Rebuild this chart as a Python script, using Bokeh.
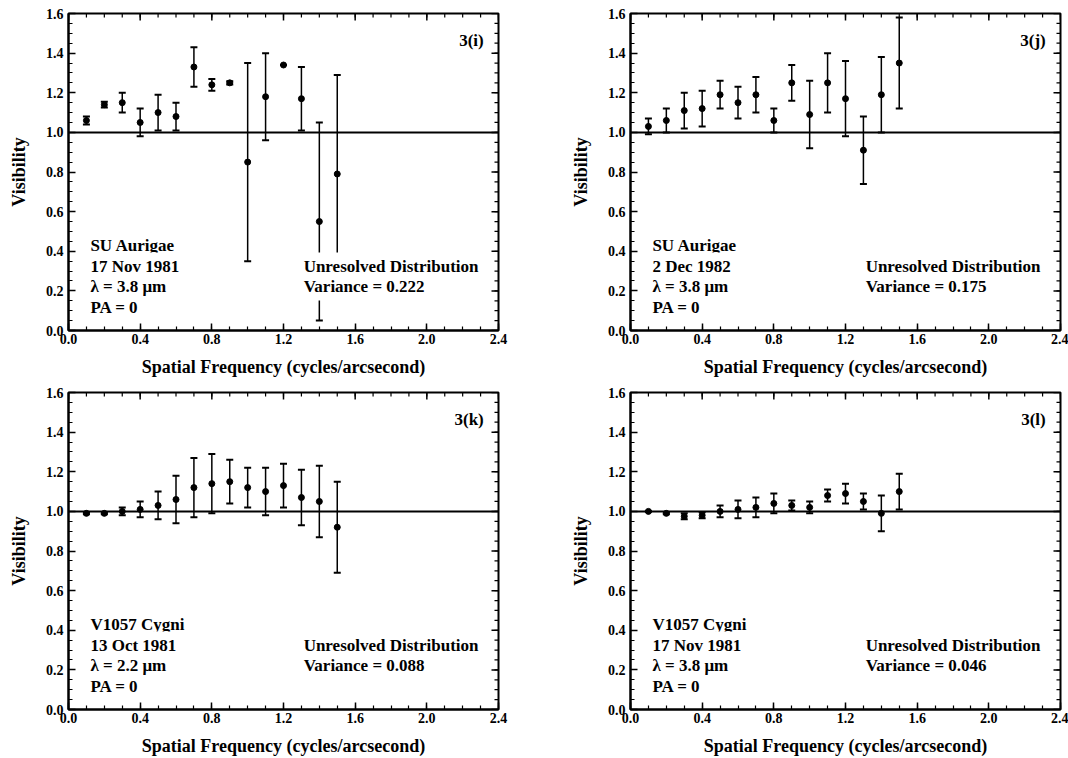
import numpy as np
from bokeh.plotting import figure
from bokeh.models import (ColumnDataSource, Whisker, TeeHead, Span, Label,
                          FixedTicker, PrintfTickFormatter, Range1d)
from bokeh.layouts import column, row
from bokeh.embed import file_html
from bokeh.resources import INLINE

# ---------------- data ----------------
freq = [0.1, 0.2, 0.3, 0.4, 0.5, 0.6, 0.7, 0.8, 0.9, 1.0, 1.1, 1.2, 1.3, 1.4, 1.5]

vis_i = [1.06, 1.14, 1.15, 1.05, 1.10, 1.08, 1.33, 1.24, 1.25, 0.85, 1.18, 1.34, 1.17, 0.55, 0.79]
err_i = [0.02, 0.015, 0.05, 0.07, 0.09, 0.07, 0.10, 0.03, 0.008, 0.50, 0.22, 0.0, 0.16, 0.50, 0.50]

vis_j = [1.03, 1.06, 1.11, 1.12, 1.19, 1.15, 1.19, 1.06, 1.25, 1.09, 1.25, 1.17, 0.91, 1.19, 1.35]
err_j = [0.04, 0.06, 0.09, 0.09, 0.07, 0.08, 0.09, 0.06, 0.09, 0.17, 0.15, 0.19, 0.17, 0.19, 0.23]

vis_k = [0.99, 0.99, 1.00, 1.01, 1.03, 1.06, 1.12, 1.14, 1.15, 1.12, 1.10, 1.13, 1.07, 1.05, 0.92]
err_k = [0.005, 0.005, 0.02, 0.04, 0.07, 0.12, 0.15, 0.15, 0.11, 0.10, 0.12, 0.11, 0.14, 0.18, 0.23]

vis_l = [1.00, 0.99, 0.975, 0.98, 1.00, 1.01, 1.02, 1.04, 1.03, 1.02, 1.08, 1.09, 1.05, 0.99, 1.10]
err_l = [0.0, 0.005, 0.015, 0.015, 0.03, 0.045, 0.05, 0.05, 0.025, 0.03, 0.03, 0.05, 0.04, 0.09, 0.09]

tags = ["3(i)", "3(j)", "3(k)", "3(l)"]
stars = ["SU Aurigae", "SU Aurigae", "V1057 Cygni", "V1057 Cygni"]
dates = ["17 Nov 1981", "2 Dec 1982", "13 Oct 1981", "17 Nov 1981"]
wavelengths = ["λ = 3.8 μm", "λ = 3.8 μm", "λ = 2.2 μm", "λ = 3.8 μm"]
variances = ["0.222", "0.175", "0.088", "0.046"]

x_ticks = [0.0, 0.4, 0.8, 1.2, 1.6, 2.0, 2.4]
y_ticks = [0.0, 0.2, 0.4, 0.6, 0.8, 1.0, 1.2, 1.4, 1.6]
x_minor = [round(v, 2) for v in np.arange(0, 2.41, 0.1)]
y_minor = [round(v, 2) for v in np.arange(0, 1.61, 0.05)]

FONT = "Liberation Serif"
X_MAX, Y_MAX = 2.4, 1.6


def style_axis(ax, ticker):
    ax.ticker = ticker
    ax.formatter = PrintfTickFormatter(format="%.1f")
    ax.axis_line_color = "black"
    ax.axis_line_width = 2
    ax.major_tick_in = 7
    ax.major_tick_out = 0
    ax.minor_tick_in = 4
    ax.minor_tick_out = 0
    ax.major_tick_line_width = 1.5
    ax.minor_tick_line_width = 1.2
    ax.major_tick_line_color = "black"
    ax.minor_tick_line_color = "black"
    ax.major_label_text_font = FONT
    ax.major_label_text_font_style = "bold"
    ax.major_label_text_font_size = "14px"
    ax.major_label_text_color = "black"
    ax.axis_label_text_font = FONT
    ax.axis_label_text_font_style = "bold"
    ax.axis_label_text_font_size = "18px"
    ax.axis_label_text_color = "black"


def make_panel(idx, vis, err, left_col, top_row):
    width = 560 if left_col else 508
    height = 380 if top_row else 378
    p = figure(width=width, height=height, output_backend="svg", toolbar_location=None,
               x_range=Range1d(0, X_MAX), y_range=Range1d(0, Y_MAX),
               min_border_left=68 if left_col else 70,
               min_border_right=62 if left_col else 8,
               min_border_top=13 if top_row else 12,
               min_border_bottom=50 if top_row else 49,
               background_fill_color="white", border_fill_color="white")
    p.xgrid.visible = False
    p.ygrid.visible = False
    p.outline_line_color = "black"
    p.outline_line_width = 2

    xt = FixedTicker(ticks=x_ticks, minor_ticks=x_minor)
    yt = FixedTicker(ticks=y_ticks, minor_ticks=y_minor)
    style_axis(p.xaxis[0], xt)
    style_axis(p.yaxis[0], yt)
    p.xaxis[0].axis_label = "Spatial Frequency (cycles/arcsecond)"
    p.yaxis[0].axis_label = "Visibility"
    p.xaxis[0].major_label_standoff = 3
    p.xaxis[0].axis_label_standoff = 10
    p.yaxis[0].major_label_standoff = 5
    p.yaxis[0].axis_label_standoff = 14

    # mirrored inward ticks on the top and right edges (outer half clipped by the frame)
    p.scatter(x_ticks, [Y_MAX] * len(x_ticks), marker="dash", angle=np.pi / 2,
              size=14, line_color="black", line_width=1.5)
    p.scatter(x_minor, [Y_MAX] * len(x_minor), marker="dash", angle=np.pi / 2,
              size=8, line_color="black", line_width=1.2)
    p.scatter([X_MAX] * len(y_ticks), y_ticks, marker="dash",
              size=14, line_color="black", line_width=1.5)
    p.scatter([X_MAX] * len(y_minor), y_minor, marker="dash",
              size=8, line_color="black", line_width=1.2)

    p.add_layout(Span(location=1.0, dimension="width", line_color="black", line_width=2))

    v = np.array(vis)
    e = np.array(err)
    src = ColumnDataSource(dict(x=freq, y=vis, upper=v + e, lower=v - e))
    w = Whisker(source=src, base="x", upper="upper", lower="lower",
                line_color="black", line_width=1.5,
                upper_head=TeeHead(size=7, line_color="black", line_width=2),
                lower_head=TeeHead(size=7, line_color="black", line_width=2))
    p.add_layout(w)
    p.scatter("x", "y", source=src, size=6, color="black")

    def lab(x, y, text, align="left"):
        p.add_layout(Label(x=x, y=y, text=text, text_align=align, text_baseline="middle",
                           text_font=FONT, text_font_style="bold", text_font_size="17px",
                           text_color="black", background_fill_color="white",
                           background_fill_alpha=1.0, padding=4))

    lab(2.34, 1.465, tags[idx], "right")
    lab(0.1, 0.43, stars[idx])
    lab(0.1, 0.325, dates[idx])
    lab(0.1, 0.22, wavelengths[idx])
    lab(0.1, 0.115, "PA = 0")
    lab(1.29, 0.325, "Unresolved Distribution")
    lab(1.29, 0.22, "Variance = " + variances[idx])
    return p


p1 = make_panel(0, vis_i, err_i, True, True)
p2 = make_panel(1, vis_j, err_j, False, True)
p3 = make_panel(2, vis_k, err_k, True, False)
p4 = make_panel(3, vis_l, err_l, False, False)

layout = column(row(p1, p2), row(p3, p4))
open("out.html", "w").write(file_html(layout, INLINE))
